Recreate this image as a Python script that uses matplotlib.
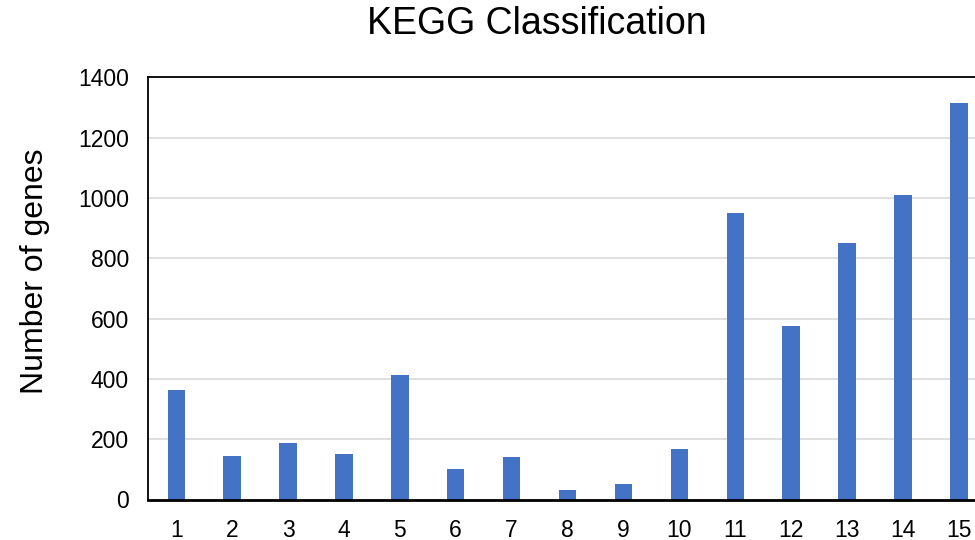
"""KEGG classification bar chart"""
import matplotlib
matplotlib.use('Agg')
import matplotlib.pyplot as plt

plt.rcParams['font.family'] = ['Liberation Sans', 'DejaVu Sans']

categories = [str(i) for i in range(1, 16)]
gene_counts = [362, 144, 187, 151, 412, 101, 140, 33, 50, 166, 950, 576, 852, 1010, 1316]
yticks = [0, 200, 400, 600, 800, 1000, 1200, 1400]

BAR_COLOR = '#4472C4'

fig = plt.figure(figsize=(9.75, 5.4), dpi=100)
ax = fig.add_axes([0.1521, 0.075, 0.860, 0.7815])

x = range(1, len(categories) + 1)
ax.bar(x, gene_counts, width=0.31, color=BAR_COLOR, zorder=3)

ax.set_xlim(0.5, len(categories) + 0.5)
ax.set_ylim(0, 1400)
ax.set_xticks(list(x))
ax.set_xticklabels(categories)
ax.set_yticks(yticks)
ax.tick_params(axis='both', length=0, labelsize=16.5, pad=14)

ax.grid(axis='y', color='#d9d9d9', linewidth=1.2, zorder=0)
for side in ['left', 'bottom', 'top', 'right']:
    ax.spines[side].set_color('black')
    ax.spines[side].set_linewidth(1.3)
ax.spines['bottom'].set_linewidth(2.0)
ax.spines['bottom'].set_zorder(4)

ax.set_ylabel('Number of genes', fontsize=23)
ax.yaxis.set_label_coords(-0.117, 0.54)

fig.text(537 / 975, 1 - 24 / 540, 'KEGG Classification', fontsize=27,
         ha='center', va='center')

plt.savefig('out.png', dpi=100)
